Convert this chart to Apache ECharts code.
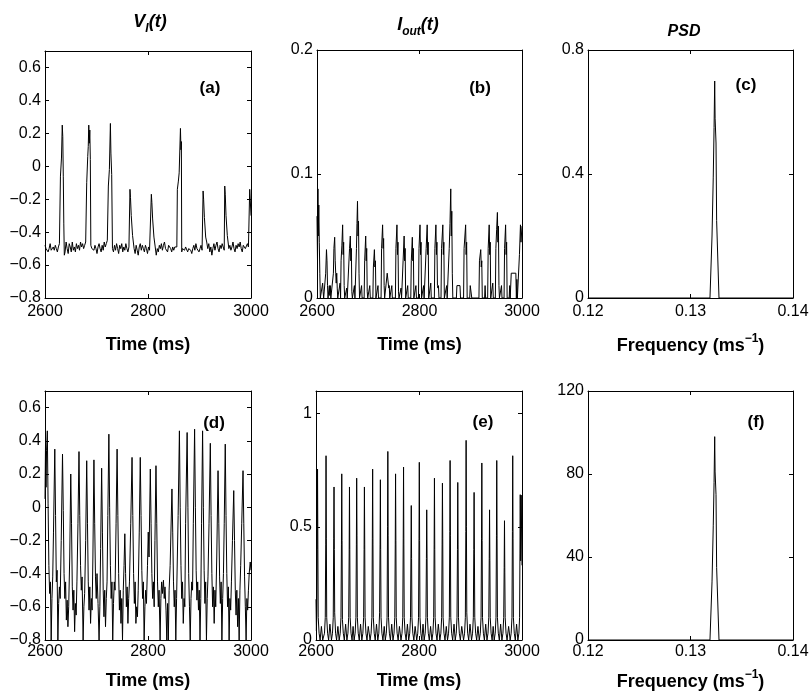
<!DOCTYPE html>
<html>
<head>
<meta charset="utf-8">
<script src="https://cdn.jsdelivr.net/npm/echarts@6/dist/echarts.min.js"></script>
<style>
html,body{margin:0;padding:0;background:#fff;}
#chart{width:809px;height:698px;}
</style>
</head>
<body>
<div id="chart"></div>
<script>
// ---------------- DATA ----------------
const timeTicks = [2600, 2800, 3000];
const freqTicks = [0.12, 0.13, 0.14];

// (a) V_I(t), weak coupling  [time ms, value]
const vTop = [
[2600,-0.48],[2602,-0.50],[2604,-0.49],[2606,-0.52],[2608,-0.50],[2610,-0.47],[2612,-0.51],[2614,-0.52],[2616,-0.49],[2618,-0.51],[2620,-0.48],[2622,-0.50],[2624,-0.52],[2626,-0.49],[2628,-0.47],[2629.5,-0.48],
[2630,-0.06],[2632,0.05],[2633.5,0.25],[2634.5,0.18],[2635.5,-0.06],[2636.5,-0.35],[2637.5,-0.54],
[2639,-0.52],[2641,-0.46],[2643,-0.50],[2645,-0.53],[2647,-0.47],[2649,-0.49],[2651,-0.52],[2653,-0.46],[2655,-0.51],[2657,-0.49],[2659,-0.52],[2661,-0.47],[2663,-0.50],[2665,-0.48],[2667,-0.51],[2669,-0.46],[2671,-0.49],[2673,-0.47],[2675,-0.50],[2677,-0.48],[2679,-0.46],[2680.5,-0.47],
[2681,-0.10],[2683,0.06],[2684,0.12],[2685,0.25],[2686,0.14],[2687,0.22],[2688,0.04],[2689,-0.48],
[2691,-0.50],[2693,-0.49],[2695,-0.51],[2697,-0.48],[2699,-0.50],[2701,-0.53],[2703,-0.49],[2705,-0.47],[2707,-0.50],[2709,-0.52],[2711,-0.48],[2713,-0.51],[2715,-0.46],[2717,-0.49],[2719,-0.47],[2721,-0.45],[2722.5,-0.46],
[2723,-0.12],[2725,-0.02],[2727,0.26],[2728,0.08],[2729.5,-0.05],[2731,-0.50],
[2733,-0.52],[2735,-0.48],[2737,-0.51],[2739,-0.47],[2741,-0.50],[2743,-0.53],[2745,-0.48],[2747,-0.50],[2749,-0.47],[2751,-0.52],[2753,-0.49],[2755,-0.51],[2757,-0.47],[2759,-0.50],[2761,-0.52],[2763,-0.49],[2764.5,-0.50],
[2765,-0.14],[2766,-0.19],[2767.5,-0.30],[2770,-0.42],[2773,-0.50],
[2775,-0.53],[2777,-0.48],[2779,-0.51],[2781,-0.54],[2783,-0.49],[2785,-0.47],[2787,-0.51],[2789,-0.48],[2791,-0.50],[2793,-0.52],[2795,-0.48],[2797,-0.50],[2799,-0.53],[2801,-0.49],[2803,-0.51],[2805,-0.52],[2806,-0.50],
[2806.5,-0.17],[2807.5,-0.22],[2809,-0.32],[2811.5,-0.43],[2814,-0.49],
[2816,-0.54],[2818,-0.50],[2820,-0.52],[2822,-0.48],[2824,-0.50],[2826,-0.47],[2828,-0.51],[2830,-0.48],[2832,-0.46],[2834,-0.50],[2836,-0.49],[2838,-0.52],[2840,-0.48],[2842,-0.47],[2844,-0.50],[2846,-0.52],[2848,-0.49],[2850,-0.51],[2852,-0.49],[2854,-0.50],[2856,-0.49],
[2857,-0.14],[2859,-0.09],[2860.5,-0.04],[2863,0.23],[2864,0.10],[2864.8,0.15],[2865.5,-0.52],
[2867,-0.50],[2869,-0.49],[2871,-0.51],[2873,-0.49],[2875,-0.48],[2877,-0.52],[2879,-0.50],[2881,-0.49],[2883,-0.51],[2885,-0.53],[2887,-0.50],[2889,-0.48],[2891,-0.51],[2893,-0.47],[2895,-0.50],[2897,-0.49],[2899,-0.52],[2901,-0.50],[2903,-0.48],[2905,-0.51],[2906.5,-0.50],
[2907,-0.15],[2908,-0.20],[2909.5,-0.31],[2912,-0.43],[2914,-0.46],
[2916,-0.50],[2918,-0.47],[2920,-0.52],[2922,-0.49],[2924,-0.54],[2926,-0.50],[2928,-0.47],[2930,-0.51],[2932,-0.48],[2934,-0.46],[2936,-0.50],[2938,-0.52],[2940,-0.48],[2942,-0.50],[2944,-0.47],[2946,-0.49],[2948,-0.51],[2948.5,-0.50],
[2949,-0.12],[2950,-0.17],[2951.5,-0.30],[2954,-0.42],[2957,-0.50],
[2959,-0.48],[2961,-0.51],[2963,-0.49],[2965,-0.46],[2967,-0.50],[2969,-0.52],[2971,-0.48],[2973,-0.50],[2975,-0.47],[2977,-0.49],[2979,-0.46],[2981,-0.50],[2983,-0.52],[2985,-0.48],[2987,-0.47],[2989,-0.50],[2991,-0.49],[2993,-0.47],[2995,-0.49],[2997,-0.50],
[2997.5,-0.14],[2998.5,-0.20],[3000,-0.30]
];

// (b) I_out(t), weak coupling
const iTop = [
[2600,0.066],[2601,0.03],[2601.8,0.088],[2602.5,0.05],[2603.5,0.075],[2604.5,0.045],[2605.5,0.02],[2606.5,0],
[2610,0],[2611,0.012],[2612,0.005],[2613,0],[2616,0],[2617,0.02],[2618.5,0.039],[2619.5,0.03],[2620.5,0.01],[2621.5,0],
[2623,0],[2624,0.01],[2625,0.002],[2626,0.01],[2627,0],[2630,0],[2632,0.02],[2633,0.04],[2634.5,0.049],[2635.5,0.03],[2636.5,0.02],[2637.5,0.012],[2638.5,0.02],[2639.5,0.008],[2640.5,0],
[2644,0],[2645,0.012],[2646,0],[2647,0.03],[2648.5,0.042],[2650,0.059],[2651,0.035],[2652,0.045],[2653,0.01],[2654,0],
[2657,0],[2658,0.008],[2659,0],[2662,0],[2663.5,0.04],[2665,0.05],[2666,0.03],[2667,0.04],[2668,0.005],[2669,0],
[2672,0],[2673,0.01],[2674,0],[2676,0],[2677,0.04],[2678,0.06],[2679,0.078],[2680,0.05],[2681,0.062],[2682,0.02],[2683,0],
[2686,0],[2687,0.01],[2688,0],[2692,0],[2693,0.03],[2695,0.05],[2696,0.03],[2697,0.04],[2698,0.005],[2699,0],
[2702,0],[2703,0.01],[2704,0],[2709,0],[2710,0.025],[2712,0.039],[2713,0.025],[2714,0.03],[2715,0],
[2718,0],[2719,0.01],[2720,0],[2725,0],[2726,0.04],[2728,0.059],[2729,0.04],[2730,0.048],[2731,0.01],[2732,0],
[2734,0],[2735,0.012],[2737,0.02],[2739,0.02],[2740,0.008],[2741,0.01],[2742,0],
[2745,0],[2746,0.01],[2747,0],[2753,0],[2754,0.04],[2756,0.059],[2757,0.035],[2758,0.045],[2759,0.005],[2760,0],
[2763,0],[2764,0.008],[2765,0],[2767,0],[2768,0.03],[2770,0.05],[2771,0.03],[2772,0.04],[2773,0],
[2776,0],[2777,0.01],[2778,0],[2783,0],[2784,0.03],[2786,0.049],[2787,0.03],[2788,0.04],[2789,0],
[2792,0],[2793,0.01],[2794,0],[2798,0],[2799,0.04],[2801,0.059],[2802,0.035],[2803,0.045],[2804,0],
[2807,0],[2808,0.01],[2809,0],[2812,0],[2813,0.04],[2815,0.059],[2816,0.035],[2817,0.045],[2818,0],
[2821,0],[2822,0.012],[2823,0],[2829,0],[2830,0.04],[2832,0.059],[2833,0.035],[2834,0.045],[2835,0.01],[2836,0.008],[2837,0.01],[2838,0],
[2842,0],[2843,0.04],[2845.5,0.059],[2846.5,0.035],[2847.5,0.045],[2848.5,0],
[2852,0],[2853,0.01],[2854,0],[2857,0],[2858,0.04],[2859.5,0.06],[2861,0.088],[2862,0.05],[2863,0.07],[2864,0.02],[2865,0],
[2872,0],[2873,0.01],[2879,0.01],[2880,0],[2886,0],[2887,0.04],[2890,0.059],[2891,0.035],[2892,0.045],[2893,0],
[2898,0],[2899,0.01],[2901,0.01],[2902,0],[2916,0],[2917,0.03],[2919.5,0.039],[2920.5,0.025],[2921.5,0.03],[2922.5,0],
[2927,0],[2928,0.01],[2929,0],[2933,0],[2934,0.04],[2936,0.059],[2937,0.035],[2938,0.045],[2939,0],
[2942,0],[2943,0.012],[2944,0],[2948,0],[2949,0.04],[2950.5,0.055],[2952,0.069],[2953,0.045],[2954,0.058],[2955,0.01],[2956,0],
[2959,0],[2960,0.01],[2961,0],[2965,0],[2966,0.04],[2968,0.059],[2969,0.035],[2970,0.045],[2971,0],
[2975,0],[2976,0.01],[2977,0],[2978,0],[2979,0.02],[2988,0.02],[2989,0],[2990,0.015],[2991,0],
[2994,0],[2995,0.035],[2997,0.059],[2998,0.045],[3000,0.058]
];

// (c) PSD, weak coupling  [frequency 1/ms, power]
const psdTop = [
[0.12,0],[0.1319,0],[0.1321,0.2],[0.13222,0.39],[0.1323,0.55],[0.13236,0.70],[0.1324,0.58],[0.13249,0.50],[0.13255,0.25],[0.13278,0],[0.14,0]
];

// (d) V_I(t), strong coupling
const vBottom = [
[2600,0.05],[2601,0.38],[2602,0.12],[2603,0.34],[2604.5,0.46],[2606,0.02],[2607.5,-0.35],[2609,-0.52],[2610.5,-0.45],[2612,-0.8],[2613.5,-0.55],[2615,-0.42],[2616.5,-0.15],
[2619,0.35],[2620.5,-0.05],[2622,-0.45],[2623.5,-0.38],[2625,-0.8],[2626.5,-0.58],[2628,-0.48],[2629.5,-0.55],[2631.5,-0.2],
[2634,0.32],[2635.5,-0.02],[2637,-0.4],[2638.5,-0.55],[2640,-0.45],[2641.5,-0.68],[2643,-0.56],[2644.5,-0.72],[2646,-0.6],[2648,-0.3],
[2650,0.20],[2651.5,-0.1],[2653,-0.48],[2654.5,-0.62],[2656,-0.5],[2657.5,-0.75],[2659,-0.58],[2660.5,-0.65],[2662,-0.45],[2664,-0.1],
[2666,0.335],[2667.5,-0.05],[2669,-0.35],[2670.5,-0.5],[2672,-0.42],[2674,-0.8],[2675.5,-0.6],[2677,-0.52],[2679,-0.2],
[2681,0.28],[2682.5,-0.1],[2684,-0.45],[2685.5,-0.62],[2687,-0.48],[2688.5,-0.7],[2690,-0.55],[2691.5,-0.62],[2693,-0.3],
[2695,0.285],[2696.5,-0.1],[2698,-0.42],[2699.5,-0.55],[2701,-0.4],[2703,-0.58],[2705,-0.8],[2706.5,-0.6],[2708,-0.25],
[2710,0.235],[2711.5,-0.15],[2713,-0.5],[2714.5,-0.66],[2716,-0.5],[2717.5,-0.72],[2719,-0.55],[2720.5,-0.45],[2722,-0.05],
[2724,0.44],[2725.5,0.0],[2727,-0.35],[2728.5,-0.55],[2730,-0.45],[2731.5,-0.8],[2733,-0.58],[2734.5,-0.45],[2736,-0.5],[2738,-0.1],
[2740,0.35],[2741.5,-0.05],[2743,-0.4],[2744.5,-0.62],[2746,-0.5],[2747.5,-0.7],[2749,-0.55],[2750.5,-0.8],[2752,-0.5],[2753.5,-0.35],
[2755,-0.16],[2756.5,-0.4],[2758,-0.6],[2759.5,-0.48],[2761,-0.7],[2762.5,-0.55],[2764,-0.45],[2766.5,-0.1],
[2769,0.30],[2770.5,-0.05],[2772,-0.4],[2773.5,-0.58],[2775,-0.45],[2776.5,-0.7],[2778,-0.6],[2779.5,-0.66],[2781,-0.5],[2783,-0.15],
[2785,0.30],[2786.5,-0.05],[2788,-0.38],[2789.5,-0.55],[2791,-0.45],[2792.5,-0.8],[2794,-0.6],[2795.5,-0.5],[2797,-0.58],[2799,-0.35],[2800.5,-0.15],[2802,-0.3],
[2804.5,0.23],[2806,-0.1],[2807.5,-0.4],[2809,-0.55],[2810.5,-0.45],[2812,-0.6],[2813.5,-0.2],
[2815.5,0.25],[2817,-0.1],[2818.5,-0.45],[2820,-0.6],[2821.5,-0.5],[2823.5,-0.8],[2825,-0.55],[2826.5,-0.45],[2828,-0.52],[2830,-0.44],[2831.5,-0.55],[2833,-0.48],[2835,-0.62],[2836.5,-0.8],[2838,-0.58],[2839.5,-0.8],[2841,-0.5],[2843,-0.35],
[2846.5,0.11],[2848,-0.15],[2849.5,-0.45],[2851,-0.6],[2852.5,-0.5],[2854,-0.8],[2855.5,-0.55],[2857,-0.3],[2858.5,-0.05],
[2861,0.46],[2862.5,0.0],[2864,-0.35],[2865.5,-0.55],[2867,-0.45],[2868.5,-0.7],[2870,-0.55],[2871.5,-0.6],[2873,-0.1],
[2876,0.45],[2877.5,0.0],[2879,-0.4],[2880.5,-0.6],[2882,-0.8],[2883.5,-0.55],[2885,-0.45],[2886.5,-0.5],[2888,-0.1],
[2890.5,0.47],[2892,0.0],[2893.5,-0.38],[2895,-0.56],[2896.5,-0.45],[2898,-0.62],[2899.5,-0.5],[2901,-0.8],[2902.5,-0.55],[2904,-0.1],
[2906,0.46],[2907.5,0.0],[2909,-0.38],[2910.5,-0.58],[2912,-0.45],[2913.5,-0.8],[2915,-0.55],[2916.5,-0.42],[2918.5,-0.1],
[2921,0.385],[2922.5,-0.05],[2924,-0.4],[2925.5,-0.6],[2927,-0.48],[2928.5,-0.7],[2930,-0.5],[2931.5,-0.6],[2933.5,-0.3],
[2936,0.22],[2937.5,-0.1],[2939,-0.42],[2940.5,-0.58],[2942,-0.45],[2943.5,-0.8],[2945,-0.55],[2946.5,-0.4],[2948,-0.1],
[2950,0.38],[2951.5,-0.05],[2953,-0.4],[2954.5,-0.6],[2956,-0.48],[2957.5,-0.8],[2959,-0.55],[2960.5,-0.62],[2962,-0.45],[2964,-0.2],
[2966.5,0.10],[2968,-0.2],[2969.5,-0.5],[2971,-0.65],[2972.5,-0.5],[2974,-0.72],[2975.5,-0.55],[2977,-0.8],[2978.5,-0.5],[2980,-0.35],[2982,-0.1],
[2984.5,0.22],[2986,-0.1],[2987.5,-0.42],[2989,-0.6],[2990.5,-0.8],[2992,-0.55],[2993.5,-0.62],[2995,-0.5],[2996.5,-0.4],[2998.5,-0.33],[3000,-0.38]
];

// (e) I_out(t), strong coupling
const iBottom = [
[2600,0.18],[2600.8,0.04],[2601.5,0.12],[2602.4,0.4],[2603,0.755],[2603.6,0.42],[2604.3,0.1],[2606,0.03],[2608,0],[2610.5,0.06],[2613,0],
[2614.5,0],[2616.5,0.03],[2618,0.1],[2618.9,0.42],[2619.5,0.814],[2620.1,0.45],[2620.8,0.1],[2622.5,0.03],[2624.5,0],[2627,0.07],
[2630,0],[2632,0.03],[2633.5,0.1],[2634.4,0.45],[2635,0.676],[2635.6,0.4],[2636.3,0.12],[2638,0.03],[2640,0],[2642.5,0.06],
[2645,0],[2647,0.03],[2648.5,0.1],[2649.4,0.42],[2650,0.734],[2650.6,0.44],[2651.3,0.09],[2653,0.03],[2655,0],[2657.5,0.07],
[2660,0],[2662,0.03],[2663.5,0.1],[2664.4,0.38],[2665,0.676],[2665.6,0.4],[2666.3,0.1],[2668,0.03],[2670,0],[2672,0.06],
[2674,0],[2676,0.03],[2677.5,0.1],[2678.4,0.42],[2679,0.715],[2679.6,0.46],[2680.3,0.1],[2682,0.03],[2684,0],[2686.5,0.07],
[2689,0],[2691,0.03],[2692.5,0.1],[2693.4,0.4],[2694,0.676],[2694.6,0.42],[2695.3,0.1],[2697,0.03],[2699,0],[2701.5,0.06],
[2705,0],[2707,0.03],[2708.5,0.1],[2709.4,0.45],[2710,0.755],[2710.6,0.42],[2711.3,0.1],[2713,0.03],[2715,0],[2717.5,0.07],
[2720,0],[2722,0.03],[2723.5,0.12],[2724.4,0.42],[2725,0.708],[2725.6,0.4],[2726.3,0.1],[2728,0.03],[2730,0],[2732.5,0.06],
[2734.5,0],[2736.5,0.03],[2738,0.1],[2738.9,0.5],[2739.5,0.833],[2740.1,0.46],[2740.8,0.1],[2742.5,0.03],[2744.5,0],[2747,0.07],
[2749.5,0],[2751.5,0.03],[2753,0.1],[2753.9,0.42],[2754.5,0.734],[2755.1,0.44],[2755.8,0.1],[2757.5,0.03],[2759.5,0],[2762,0.06],
[2765,0],[2767,0.03],[2768.5,0.1],[2769.4,0.45],[2770,0.764],[2770.6,0.42],[2771.3,0.1],[2773,0.03],[2775,0],[2777.5,0.07],
[2780,0],[2782,0.03],[2783.5,0.1],[2784.4,0.38],[2785,0.594],[2785.6,0.36],[2786.3,0.1],[2788,0.03],[2790,0],[2792.5,0.06],
[2795.6,0],[2797.6,0.03],[2799.1,0.1],[2800,0.45],[2800.6,0.785],[2801.2,0.44],[2801.9,0.1],[2803.6,0.03],[2805.6,0],[2807.8,0.07],
[2810,0],[2812,0.03],[2813.5,0.1],[2814.4,0.36],[2815,0.575],[2815.6,0.38],[2816.3,0.1],[2818,0.03],[2820,0],[2822.5,0.06],
[2825,0],[2827,0.03],[2828.5,0.1],[2829.4,0.42],[2830,0.715],[2830.6,0.4],[2831.3,0.1],[2833,0.03],[2835,0],[2837.5,0.07],
[2840.5,0],[2842.5,0.03],[2844,0.1],[2844.9,0.42],[2845.5,0.693],[2846.1,0.45],[2846.8,0.1],[2848.5,0.03],[2850.5,0],[2853,0.06],
[2855.4,0],[2857.4,0.03],[2858.9,0.1],[2859.8,0.48],[2860.4,0.793],[2861,0.46],[2861.7,0.1],[2863.4,0.03],[2865.4,0],[2868,0.07],
[2870.3,0],[2872.3,0.03],[2873.8,0.1],[2874.7,0.4],[2875.3,0.696],[2875.9,0.42],[2876.6,0.1],[2878.3,0.03],[2880.3,0],[2883,0.06],
[2886.5,0],[2888.5,0.03],[2890,0.1],[2890.9,0.48],[2891.5,0.882],[2892.1,0.5],[2892.8,0.12],[2894.5,0.03],[2896.5,0],[2899,0.07],
[2902,0],[2904,0.03],[2905.5,0.1],[2906.4,0.4],[2907,0.652],[2907.6,0.38],[2908.3,0.1],[2910,0.03],[2912,0],[2914.5,0.06],
[2917,0],[2919,0.03],[2920.5,0.1],[2921.4,0.45],[2922,0.782],[2922.6,0.44],[2923.3,0.1],[2925,0.03],[2927,0],[2929.5,0.07],
[2932,0],[2934,0.03],[2935.5,0.1],[2936.4,0.36],[2937,0.575],[2937.6,0.35],[2938.3,0.1],[2940,0.03],[2942,0],[2944,0.06],
[2946,0],[2948,0.03],[2949.5,0.1],[2950.4,0.46],[2951,0.793],[2951.6,0.45],[2952.3,0.1],[2954,0.03],[2956,0],[2958.5,0.07],
[2961,0],[2963,0.03],[2964.5,0.1],[2965.4,0.32],[2966,0.527],[2966.6,0.3],[2967.3,0.1],[2969,0.03],[2971,0],[2974,0.06],
[2977,0],[2979,0.03],[2980.5,0.1],[2981.4,0.48],[2982,0.814],[2982.6,0.45],[2983.3,0.1],[2985,0.03],[2987,0],[2989.5,0.07],
[2992,0],[2994,0.03],[2995.3,0.1],[2996,0.38],[2996.6,0.642],[2997.4,0.35],[2998.4,0.64],[3000,0.33]
];

// (f) PSD, strong coupling
const psdBottom = [
[0.12,0],[0.1319,0],[0.1321,28],[0.13222,55],[0.1323,76],[0.13236,98],[0.1324,81],[0.13249,70],[0.13255,35],[0.13278,0],[0.14,0]
];

// ---------------- LAYOUT / STYLE ----------------
const FONT = '"Liberation Sans", Arial, Helvetica, sans-serif';
const INK = '#000';

const panels = [
  { box:{left:45, top:51, width:206, height:247}, data:vTop, x:[2600,3000,200], y:[-0.8,0.7,0.2], letter:'(a)', lx:210, ly:88, name:'time', row:0 },
  { box:{left:317, top:50, width:205, height:248}, data:iTop, x:[2600,3000,200], y:[0,0.2,0.1], letter:'(b)', lx:480, ly:88, name:'time', row:0 },
  { box:{left:588, top:50, width:205, height:248}, data:psdTop, x:[0.12,0.14,0.01], y:[0,0.8,0.4], letter:'(c)', lx:746, ly:85, name:'freq', row:0 },
  { box:{left:45, top:391, width:206, height:249}, data:vBottom, x:[2600,3000,200], y:[-0.8,0.7,0.2], letter:'(d)', lx:214, ly:423, name:'time', row:1 },
  { box:{left:316, top:391, width:206, height:249}, data:iBottom, x:[2600,3000,200], y:[0,1.1,0.5], letter:'(e)', lx:483, ly:422, name:'time', row:1 },
  { box:{left:588, top:391, width:205, height:249}, data:psdBottom, x:[0.12,0.14,0.01], y:[0,120,40], letter:'(f)', lx:756, ly:422, name:'freq', row:1 }
];

const fmt = v => {
  const s = String(Number(Number(v).toFixed(4)));
  return s.replace('-', '\u2212');
};

const grids = [], xAxes = [], yAxes = [], series = [], graphics = [];
const tickCommon = { show:true, inside:true, length:4, lineStyle:{color:INK, width:1} };
const lineCommon = { show:true, onZero:false, lineStyle:{color:INK, width:1} };
const labelCommon = { color:INK, fontFamily:FONT, fontSize:16 };

panels.forEach((p, i) => {
  grids.push(Object.assign({ containLabel:false, outerBoundsMode:'none', show:false }, p.box));
  const isFreq = p.name === 'freq';
  const nameText = isFreq ? '{a|Frequency (ms}{s|\u22121}{a|)}' : 'Time (ms)';
  xAxes.push({
    type:'value', gridIndex:i, position:'bottom', min:p.x[0], max:p.x[1], interval:p.x[2],
    axisLine:lineCommon, axisTick:tickCommon, splitLine:{show:false},
    axisLabel:Object.assign({ formatter:fmt, margin: p.row === 0 ? 6 : 4 }, labelCommon),
    name:nameText, nameLocation:'middle', nameGap: (p.row === 0 ? 38 : 32) - (isFreq ? 3 : 0),
    nameTextStyle:{ color:INK, fontFamily:FONT, fontSize:18, fontWeight:'bold', verticalAlign:'top',
      rich:{ a:{fontFamily:FONT, fontSize:18, fontWeight:'bold', color:INK, lineHeight:22, verticalAlign:'bottom'},
             s:{fontFamily:FONT, fontSize:12, fontWeight:'bold', color:INK, lineHeight:12, verticalAlign:'top'} } }
  });
  xAxes.push({
    type:'value', gridIndex:i, position:'top', min:p.x[0], max:p.x[1], interval:p.x[2],
    axisLine:lineCommon, axisTick:tickCommon, splitLine:{show:false}, axisLabel:{show:false}
  });
  yAxes.push({
    type:'value', gridIndex:i, position:'left', min:p.y[0], max:p.y[1], interval:p.y[2],
    axisLine:lineCommon, axisTick:tickCommon, splitLine:{show:false},
    axisLabel:Object.assign({ formatter:fmt, margin:4, showMaxLabel: (p.y[1]/p.y[2]) % 1 === 0 }, labelCommon)
  });
  yAxes.push({
    type:'value', gridIndex:i, position:'right', min:p.y[0], max:p.y[1], interval:p.y[2],
    axisLine:lineCommon, axisTick:tickCommon, splitLine:{show:false}, axisLabel:{show:false}
  });
  series.push({
    type:'line', xAxisIndex:2*i, yAxisIndex:2*i, data:p.data, showSymbol:false, symbol:'none',
    lineStyle:{color:INK, width:1}, clip:true, silent:true
  });
  graphics.push({
    type:'text', x:p.lx, y:p.ly, silent:true,
    style:{ text:p.letter, fill:INK, font:'bold 17px ' + FONT, align:'center', verticalAlign:'middle' }
  });
});

// column titles
const titleRich = {
  m:{ fontFamily:FONT, fontSize:18, fontWeight:'bold', fontStyle:'italic', fill:INK, lineHeight:18, verticalAlign:'top' },
  s:{ fontFamily:FONT, fontSize:12, fontWeight:'bold', fontStyle:'italic', fill:INK, lineHeight:12, padding:[10,0,0,0], verticalAlign:'top' }
};
graphics.push({ type:'text', x:150, y:13, silent:true,
  style:{ text:'{m|V}{s|I}{m|(t)}', rich:titleRich, align:'center', verticalAlign:'top' } });
graphics.push({ type:'text', x:418, y:16, silent:true,
  style:{ text:'{m|I}{s|out}{m|(t)}', rich:titleRich, align:'center', verticalAlign:'top' } });
graphics.push({ type:'text', x:684, y:24, silent:true,
  style:{ text:'PSD', fill:INK, font:'italic bold 16px ' + FONT, align:'center', verticalAlign:'top' } });

const chart = echarts.init(document.getElementById('chart'), null, { renderer:'canvas' });
chart.setOption({
  animation:false,
  backgroundColor:'#fff',
  grid:grids, xAxis:xAxes, yAxis:yAxes, series:series, graphic:graphics
});
</script>
</body>
</html>
